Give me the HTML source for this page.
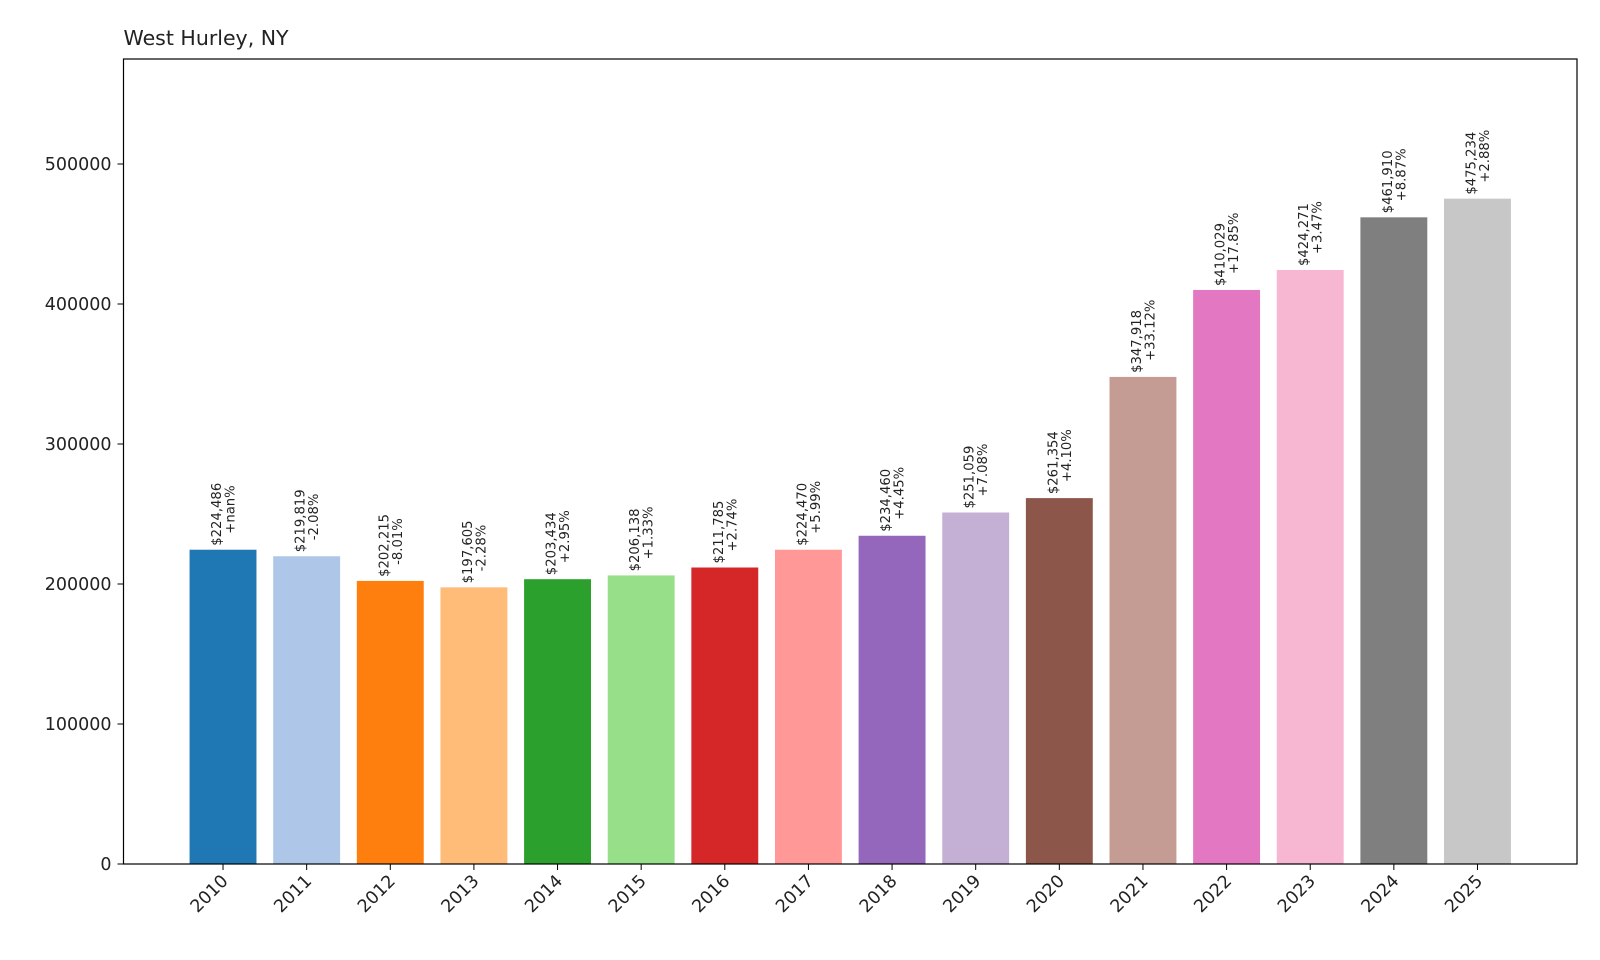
<!DOCTYPE html>
<html><head><meta charset="utf-8"><style>
body{margin:0;background:#fff}
svg{display:block;font-family:"DejaVu Sans","Liberation Sans",sans-serif}
</style></head><body>
<svg id="chart" width="1600" height="960" viewBox="0 0 1600 960">
<text x="123.5" y="45" font-size="20.5" fill="#222">West Hurley, NY</text>
<g id="plot"></g>
<rect x="123.5" y="59" width="1453.5" height="805" fill="none" stroke="#000" stroke-width="1.2"/>
</svg>
<script>
const years = ["2010","2011","2012","2013","2014","2015","2016","2017","2018","2019","2020","2021","2022","2023","2024","2025"];
const values = [224486,219819,202215,197605,203434,206138,211785,224470,234460,251059,261354,347918,410029,424271,461910,475234];
const changes = ["+nan%","-2.08%","-8.01%","-2.28%","+2.95%","+1.33%","+2.74%","+5.99%","+4.45%","+7.08%","+4.10%","+33.12%","+17.85%","+3.47%","+8.87%","+2.88%"];
const yTicks = [0,100000,200000,300000,400000,500000];
const colors = ["#1f77b4","#aec7e8","#ff7f0e","#ffbb78","#2ca02c","#98df8a","#d62728","#ff9896","#9467bd","#c5b0d5","#8c564b","#c49c94","#e377c2","#f7b6d2","#7f7f7f","#c7c7c7"];
const L=123.5,R=1577,T=59,B=864,yMax=575000;
const xMin=-1.19,xMax=years.length-1+1.19;
const xs=i=>L+(i-xMin)/(xMax-xMin)*(R-L);
const ys=v=>B-v/yMax*(B-T);
const bw=0.8*(R-L)/(xMax-xMin);
const g=document.getElementById('plot');
const NS="http://www.w3.org/2000/svg";
function mk(t,a){const e=document.createElementNS(NS,t);for(const k in a)e.setAttribute(k,a[k]);return e;}
yTicks.forEach(v=>{
  const y=ys(v);
  const l=mk('line',{x1:L-6,x2:L,y1:y,y2:y,stroke:'#000'});
  
  
  g.appendChild(l);
  const t=mk('text',{x:L-12,y:y+6,'text-anchor':'end','font-size':'17.5',fill:'#222'});
  
  
  t.textContent=v;g.appendChild(t);
});
years.forEach((yr,i)=>{
  const cx=xs(i),top=ys(values[i]);
  const r=mk('rect',{x:cx-bw/2,y:top,width:bw,height:B-top,fill:colors[i]});
  
  
  g.appendChild(r);
  const l=mk('line',{x1:cx,x2:cx,y1:B,y2:B+6,stroke:'#000'});
  
  
  g.appendChild(l);
  const t=mk('text',{transform:`translate(${cx+6},${B+18}) rotate(-45)`,'text-anchor':'end','font-size':'17.5',fill:'#222'});
  
  
  t.textContent=yr;g.appendChild(t);
  const lab=mk('text',{transform:`translate(${cx},${top-4}) rotate(-90)`,'font-size':'13.2',fill:'#222'});
  
  
  const s1=mk('tspan',{x:0,dy:'-2'});s1.textContent='$'+values[i].toLocaleString('en-US');
  const s2=mk('tspan',{x:'12',dy:'13.5'});s2.textContent=changes[i];
  lab.appendChild(s1);lab.appendChild(s2);g.appendChild(lab);
});
</script>
</body></html>
